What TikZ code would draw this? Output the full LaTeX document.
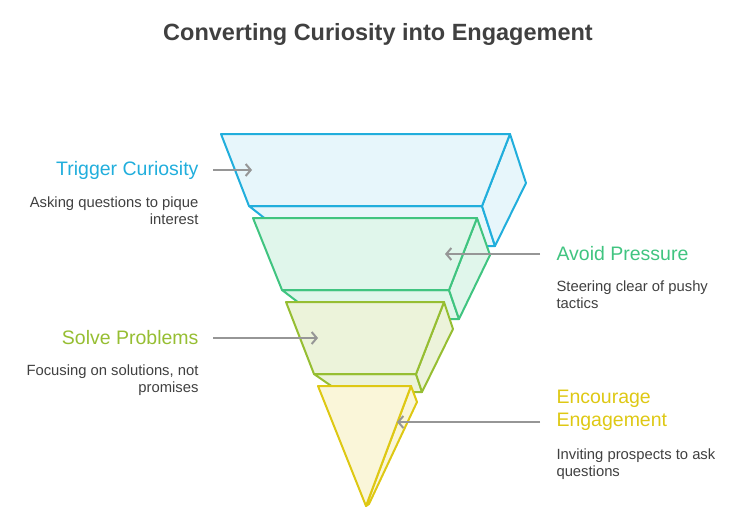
\documentclass[tikz,border=0pt]{standalone}
\usepackage{fontspec}
\setmainfont{Liberation Sans}
\usetikzlibrary{arrows.meta}
\definecolor{myblue}{RGB}{33,174,220}
\definecolor{mygreen}{RGB}{64,196,128}
\definecolor{mylime}{RGB}{150,190,50}
\definecolor{myyellow}{RGB}{222,200,20}
\definecolor{mygray}{RGB}{150,150,150}
\begin{document}
\begin{tikzpicture}[x=1pt,y=-1pt,
  layer/.style={line width=2pt,line join=round},
  point/.style={mygray,line width=2pt,-{Straight Barb[length=5pt,width=12pt,line width=2pt]}},
  head/.style={font=\fontsize{19.5}{23}\selectfont},
  descr/.style={font=\fontsize{14.8}{17.5}\selectfont,text=black!75}]
  \useasboundingbox (0,0) rectangle (756,514);
  \node[font=\bfseries\fontsize{23.5}{28}\selectfont,text=black!75] (title) at (378,34) {Converting Curiosity into Engagement};
  % blue layer
  \draw[layer,myblue,fill=myblue!11] (249,206) -- (482,206) -- (495,246) -- (300,246) -- cycle;
  \draw[layer,myblue,fill=myblue!11] (510,134) -- (526,183) -- (495,246) -- (482,206) -- cycle;
  \draw[layer,myblue,fill=myblue!11] (221,134) -- (510,134) -- (482,206) -- (249,206) -- cycle;
  % green layer
  \draw[layer,mygreen,fill=mygreen!16] (282,290) -- (449,290) -- (459,319) -- (320,319) -- cycle;
  \draw[layer,mygreen,fill=mygreen!16] (477,218) -- (490,255) -- (459,319) -- (449,290) -- cycle;
  \draw[layer,mygreen,fill=mygreen!16] (253,218) -- (477,218) -- (449,290) -- (282,290) -- cycle;
  % lime layer
  \draw[layer,mylime,fill=mylime!18] (314,374) -- (416,374) -- (422,392) -- (340,392) -- cycle;
  \draw[layer,mylime,fill=mylime!18] (444,302) -- (453,329) -- (422,392) -- (416,374) -- cycle;
  \draw[layer,mylime,fill=mylime!18] (286,302) -- (444,302) -- (416,374) -- (314,374) -- cycle;
  % yellow layer
  \draw[layer,myyellow,fill=myyellow!16] (411,386) -- (417,402) -- (369,504) -- (366,506) -- cycle;
  \draw[layer,myyellow,fill=myyellow!16] (318,386) -- (411,386) -- (366,506) -- cycle;

  % labels
  \node[head,text=myblue,anchor=east] (trig) at (202,170) {Trigger Curiosity};
  \node[descr,anchor=north east,align=right] (trigd) at (202,193) {Asking questions to pique\\interest};
  \node[head,text=mygreen,anchor=west] (avoid) at (553,254) {Avoid Pressure};
  \node[descr,anchor=north west,align=left] (avoidd) at (553,277) {Steering clear of pushy\\tactics};
  \node[head,text=mylime,anchor=east] (solve) at (202,338) {Solve Problems};
  \node[descr,anchor=north east,align=right] (solved) at (202,361) {Focusing on solutions, not\\promises};
  \node[head,text=myyellow,anchor=west,align=left] (enc) at (553,410) {Encourage\\Engagement};
  \node[descr,anchor=north west,align=left] (encd) at (553,445) {Inviting prospects to ask\\questions};

  % pointers
  \coordinate (s1) at (213,170);
  \coordinate (s2) at (540,254);
  \coordinate (s3) at (213,338);
  \coordinate (s4) at (540,422);
  \coordinate (p1) at (252,170);
  \coordinate (p2) at (445,254);
  \coordinate (p3) at (318,338);
  \coordinate (p4) at (397,422);
  \draw[point] (s1) -- (p1);
  \draw[point] (s2) -- (p2);
  \draw[point] (s3) -- (p3);
  \draw[point] (s4) -- (p4);
\end{tikzpicture}
\end{document}
